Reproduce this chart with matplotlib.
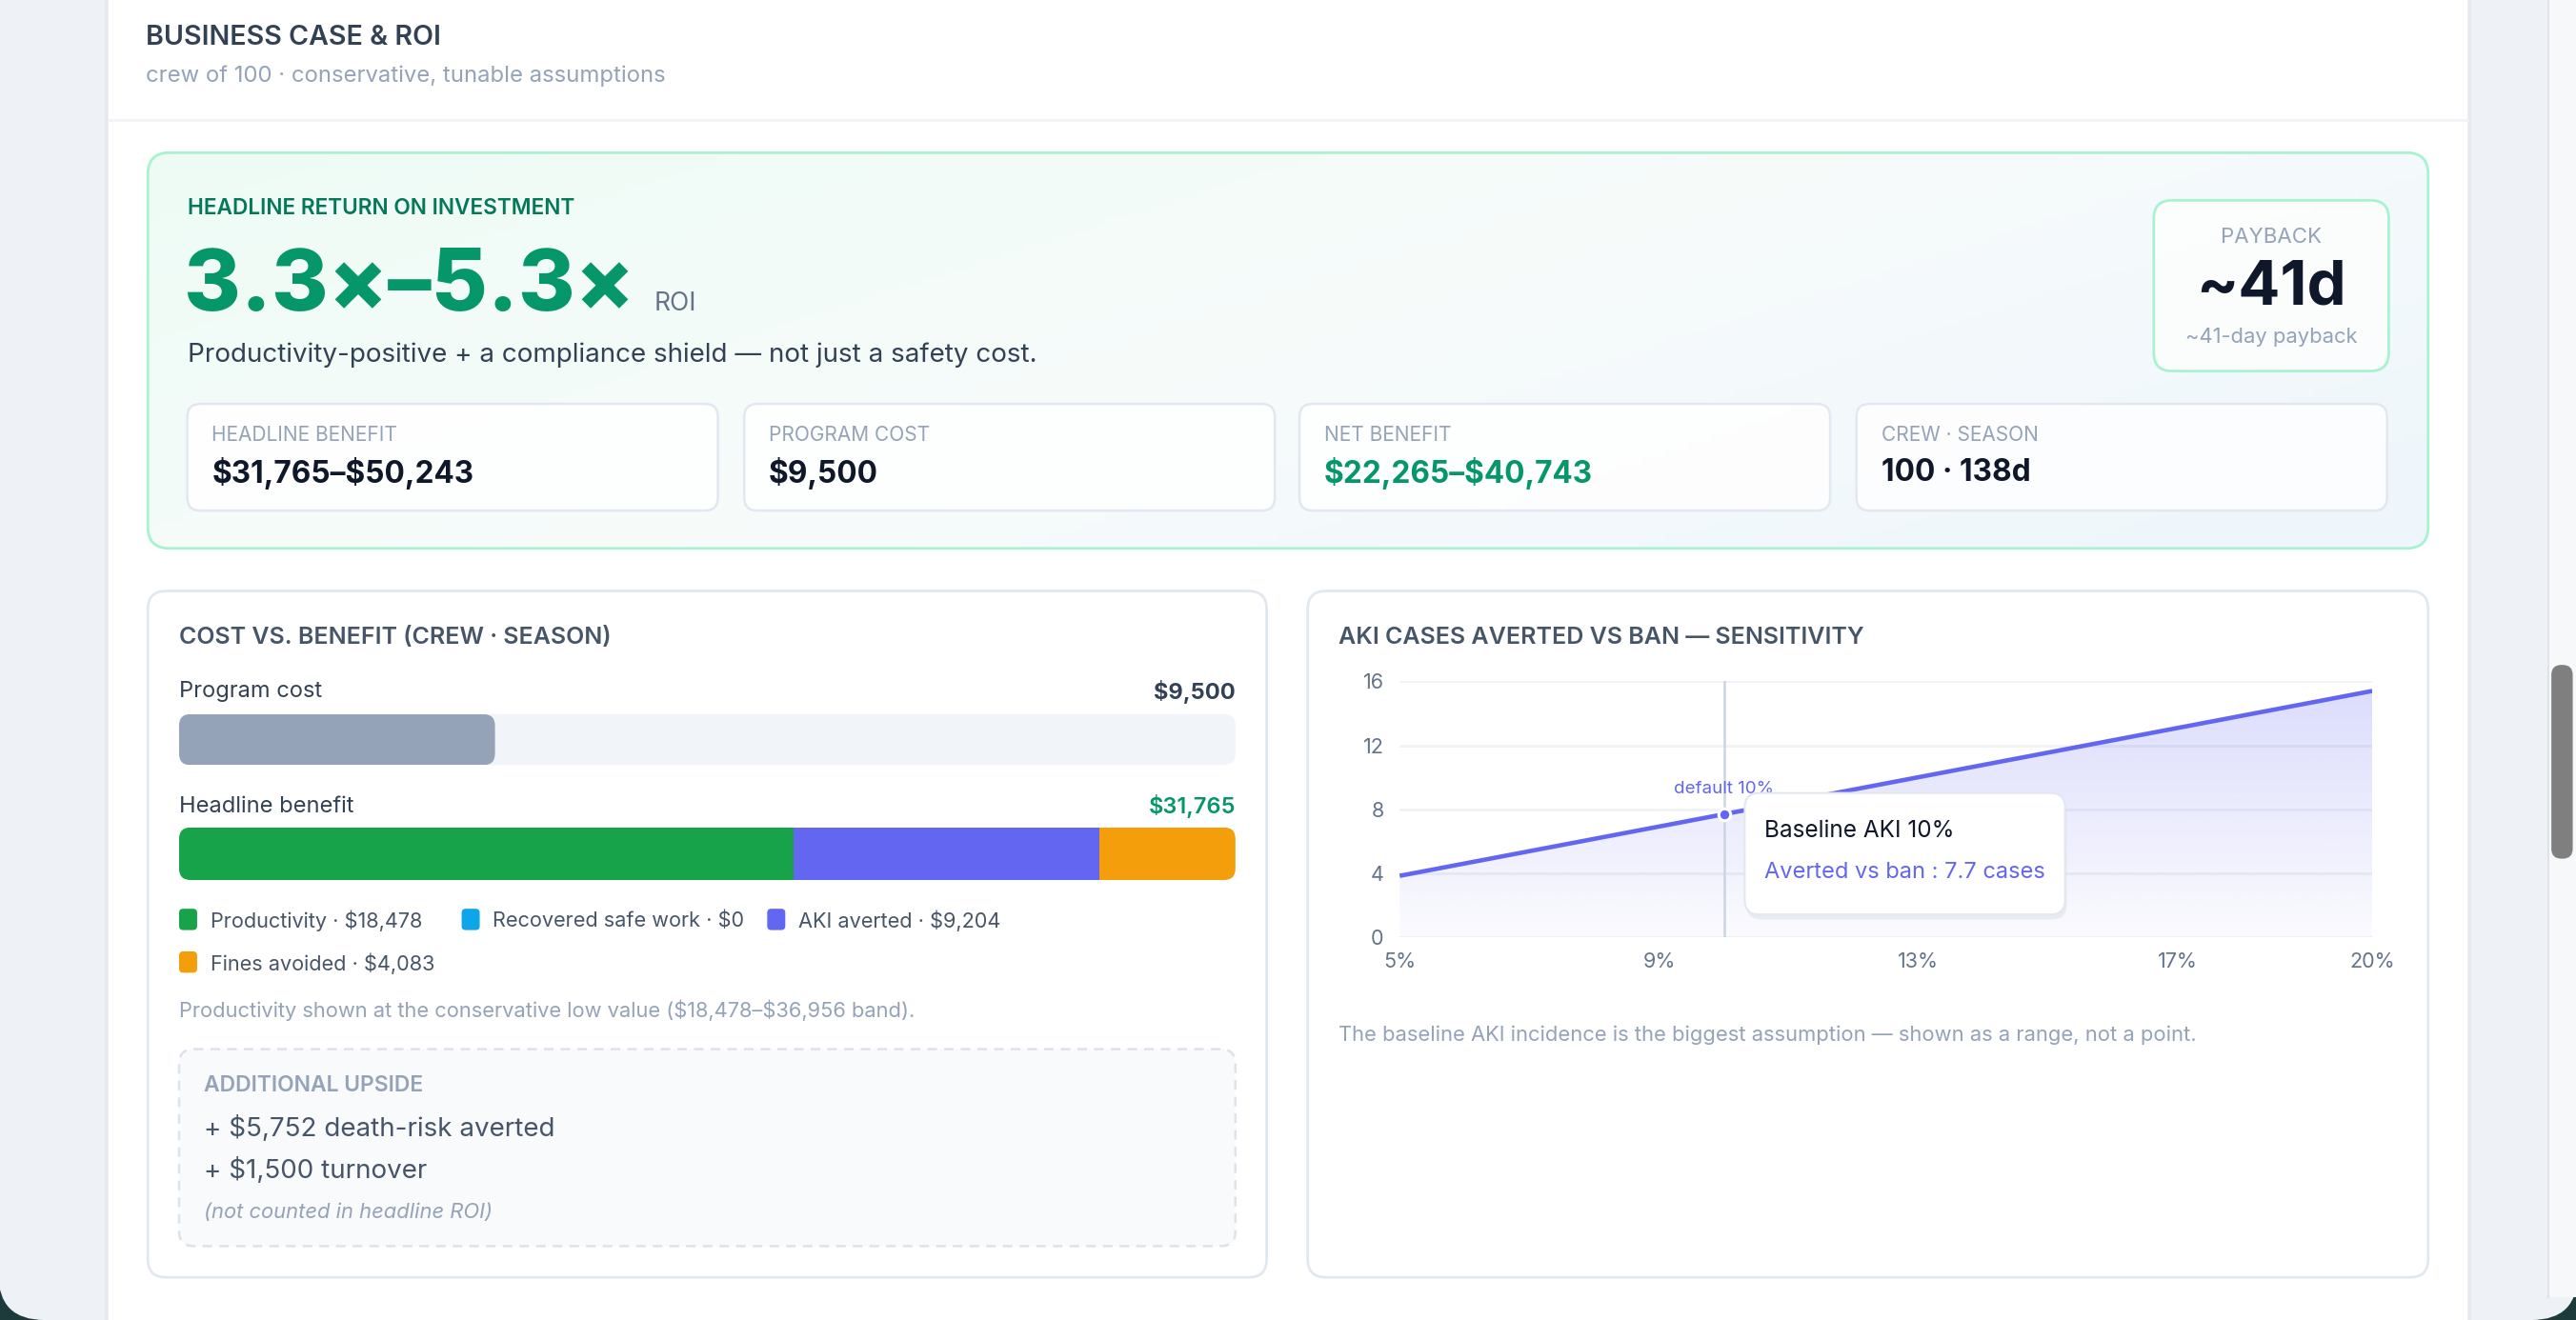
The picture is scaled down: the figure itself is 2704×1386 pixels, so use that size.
import numpy as np
import matplotlib
matplotlib.use("Agg")
import matplotlib.pyplot as plt
from matplotlib.patches import FancyBboxPatch, Rectangle
from matplotlib.colors import to_rgb

plt.rcParams["font.family"] = ["Inter", "DejaVu Sans"]

# ---- data ----
roi_range = [3.3, 5.3]
payback_days = 41
headline_benefit = [31765, 50243]
program_cost = 9500
net_benefit = [22265, 40743]
crew_size = 100
season_days = 138

benefit_labels = ["Productivity", "Recovered safe work", "AKI averted", "Fines avoided"]
benefit_values = [18478, 0, 9204, 4083]
productivity_band = [18478, 36956]

upside_values = [5752, 1500]
upside_labels = ["death-risk averted", "turnover"]

aki_baseline = [5, 10, 15, 20]          # % baseline AKI incidence
aki_averted = [3.85, 7.7, 11.55, 15.4]  # cases averted vs ban
aki_default = 10
aki_default_value = 7.7
aki_xticks = [5, 9, 13, 17, 20]
aki_yticks = [0, 4, 8, 12, 16]

# ---- styles ----
BENEFIT_COLORS = ["#16a34a", "#0ea5e9", "#6366f1", "#f59e0b"]
GREEN = "#059669"
DARK = "#0f172a"
SLATE = "#334155"
MUTED = "#94a3b8"
BORDER = "#e2e8f0"
INDIGO = "#6366f1"

W, H = 1568, 804          # layout units (scaled screenshot)
DY = 1.2                  # text baseline nudge
fig = plt.figure(figsize=(27.04, 13.86), dpi=100)
fig.patch.set_facecolor("#1d3b3a")


def layer(z):
    ax = fig.add_axes([0, 0, 1, 1], zorder=z)
    ax.set_xlim(0, W)
    ax.set_ylim(H, 0)
    ax.axis("off")
    ax.patch.set_alpha(0)
    return ax


def fig_rect(x0, y0, x1, y1):
    return [x0 / W, 1 - y1 / H, (x1 - x0) / W, (y1 - y0) / H]


def rbox(ax, x0, y0, x1, y1, r, **kw):
    p = FancyBboxPatch((x0, y0), x1 - x0, y1 - y0,
                       boxstyle=f"round,pad=0,rounding_size={r}", **kw)
    ax.add_patch(p)
    return p


def txt(ax, x, y, s, **kw):
    kw.setdefault("va", "center")
    kw.setdefault("zorder", 5)
    return ax.text(x, y + DY, s, **kw)


def money(v):
    return f"\\${v:,}"


bg = layer(0)
# window background with rounded bottom corners
rbox(bg, -1, -60, 1569, 804, 28, fc="#eef2f6", ec="none")
# scrollbar
bg.add_patch(Rectangle((1551, 0), 17, 790, fc="#f7f8fa", ec="none"))
bg.plot([1551, 1551], [0, 790], color="#dfe3e8", lw=1.5)
rbox(bg, 1553, 405, 1566, 523, 6, fc="#7f7f7f", ec="none")

# main card
rbox(bg, 64, -20, 1504, 830, 12, fc="#e6eaef", ec="none")
rbox(bg, 66, -20, 1502, 830, 12, fc="white", ec="none")
txt(bg, 89, 22, "BUSINESS CASE & ROI", fontsize=20.6, fontweight="semibold", color=SLATE)
txt(bg, 89, 45, "crew of 100 · conservative, tunable assumptions", fontsize=17.2, color=MUTED)
bg.plot([66, 1502], [73, 73], color="#f1f3f6", lw=2)

# ---- hero panel ----
hero = rbox(bg, 90, 93, 1478, 334, 13, fc="none", ec="#a7f3d0", lw=2, zorder=3)
gx, gy = np.meshgrid(np.linspace(0, 1, 200), np.linspace(0, 1, 60))
t = np.clip(0.65 * gx + 0.35 * gy, 0, 1)[..., None]
c0 = np.array(to_rgb("#eefbf5"))
c1 = np.array(to_rgb("#f7fbfb"))
c2 = np.array(to_rgb("#eef6fc"))
grad = np.where(t < 0.5, c0 + (c1 - c0) * (t / 0.5), c1 + (c2 - c1) * ((t - 0.5) / 0.5))
im = bg.imshow(grad, extent=(90, 1478, 334, 93), aspect="auto", zorder=2)
im.set_clip_path(hero)
bg.set_xlim(0, W)
bg.set_ylim(H, 0)

txt(bg, 114, 126, "HEADLINE RETURN ON INVESTMENT", fontsize=16.3, fontweight="semibold",
    color="#047857")
big = bg.text(112, 189, f"{roi_range[0]}×–{roi_range[1]}×", fontsize=65.5, fontweight="heavy",
              color=GREEN, va="baseline", zorder=5)
renderer = fig.canvas.get_renderer()
big_right = bg.transData.inverted().transform(
    (big.get_window_extent(renderer).x1, 0))[0]
bg.text(big_right + 12, 189, "ROI", fontsize=19, color="#64748b", va="baseline", zorder=5)
txt(bg, 114, 215, "Productivity-positive + a compliance shield — not just a safety cost.",
    fontsize=20, color=SLATE)

# payback box
rbox(bg, 1311, 122, 1454, 226, 11, fc=(1, 1, 1, 0.75), ec="#a7f3d0", lw=2, zorder=4)
txt(bg, 1382.5, 143, "PAYBACK", fontsize=16, color=MUTED, ha="center")
txt(bg, 1382.5, 174, f"~{payback_days}d", fontsize=47, fontweight="bold", color=DARK,
    ha="center")
txt(bg, 1382.5, 204, f"~{payback_days}-day payback", fontsize=15.8, color=MUTED, ha="center")

# metric tiles
tiles = [
    ("HEADLINE BENEFIT", f"{money(headline_benefit[0])}–{money(headline_benefit[1])}", DARK),
    ("PROGRAM COST", money(program_cost), DARK),
    ("NET BENEFIT", f"{money(net_benefit[0])}–{money(net_benefit[1])}", GREEN),
    ("CREW · SEASON", f"{crew_size} · {season_days}d", DARK),
]
tile_x = [114, 453, 791, 1130]
for (label, value, col), x0 in zip(tiles, tile_x):
    rbox(bg, x0, 246, x0 + 323, 311, 8, fc=(1, 1, 1, 0.85), ec=BORDER, lw=1.8, zorder=4)
    txt(bg, x0 + 15, 264, label, fontsize=15, color=MUTED)
    txt(bg, x0 + 15, 287, value, fontsize=22.8, fontweight="bold", color=col)

# ---- lower panels ----
for x0, x1 in [(90, 771), (796, 1478)]:
    rbox(bg, x0, 360, x1, 778, 11, fc="white", ec=BORDER, lw=2, zorder=2)

# cost vs benefit
txt(bg, 109, 387, "COST VS. BENEFIT (CREW · SEASON)", fontsize=18, fontweight="semibold",
    color="#475569")
total_benefit = sum(benefit_values)
txt(bg, 109, 420, "Program cost", fontsize=17, color=SLATE)
txt(bg, 752, 420, money(program_cost), fontsize=17, fontweight="bold", color=SLATE, ha="right")
txt(bg, 109, 490, "Headline benefit", fontsize=17, color=SLATE)
txt(bg, 752, 490, money(total_benefit), fontsize=17, fontweight="semibold", color=GREEN,
    ha="right")

rbox(bg, 109, 435, 752, 466, 7, fc="#f1f5f9", ec="none", zorder=3)
ax_cost = fig.add_axes(fig_rect(109, 435, 752, 466), zorder=3)
ax_cost.set_xlim(0, total_benefit)
ax_cost.set_ylim(0, 1)
ax_cost.axis("off")
ax_cost.patch.set_alpha(0)
bar = ax_cost.barh(0.5, program_cost, height=1, color="#94a3b8")[0]
ext = bar.get_window_extent()
(bx0, by1), (bx1, by0) = bg.transData.inverted().transform([[ext.x0, ext.y0], [ext.x1, ext.y1]])
fill_clip = FancyBboxPatch((bx0, by0), bx1 - bx0, by1 - by0,
                           boxstyle="round,pad=0,rounding_size=7", transform=bg.transData)
bar.set_clip_path(fill_clip)

stack_clip = rbox(bg, 109, 504, 752, 536, 7, fc="none", ec="none", zorder=3)
ax_ben = fig.add_axes(fig_rect(109, 504, 752, 536), zorder=3)
ax_ben.set_xlim(0, total_benefit)
ax_ben.set_ylim(0, 1)
ax_ben.axis("off")
ax_ben.patch.set_alpha(0)
left = 0
for v, c in zip(benefit_values, BENEFIT_COLORS):
    seg = ax_ben.barh(0.5, v, left=left, height=1, color=c, lw=0)[0]
    seg.set_clip_path(stack_clip)
    left += v

# legend
legend_pos = [(109, 560), (281, 560), (467, 560), (109, 586)]
for (lx, ly), lab, v, c in zip(legend_pos, benefit_labels, benefit_values, BENEFIT_COLORS):
    rbox(bg, lx, ly - 6.5, lx + 11, ly + 6.5, 2.5, fc=c, ec="none", zorder=5)
    txt(bg, lx + 19, ly - 0.5, f"{lab} · {money(v)}", fontsize=15.6, color="#475569")

txt(bg, 109, 614, "Productivity shown at the conservative low value "
    f"({money(productivity_band[0])}–{money(productivity_band[1])} band).",
    fontsize=15.75, color=MUTED)

rbox(bg, 109, 639, 752, 759, 9, fc="#f8fafc", ec="#dde3ea", lw=1.8, ls=(0, (4, 3)), zorder=4)
txt(bg, 124, 660, "ADDITIONAL UPSIDE", fontsize=16.5, fontweight="semibold", color=MUTED)
for yy, v, lab in zip([686, 712], upside_values, upside_labels):
    txt(bg, 124, yy, f"+ {money(v)} {lab}", fontsize=20, color="#475569")
txt(bg, 124, 737, "(not counted in headline ROI)", fontsize=15.8, style="italic", color=MUTED)

# AKI sensitivity chart
txt(bg, 815, 387, "AKI CASES AVERTED VS BAN — SENSITIVITY", fontsize=18,
    fontweight="semibold", color="#475569")
txt(bg, 815, 629, "The baseline AKI incidence is the biggest assumption — shown as a range, "
    "not a point.", fontsize=15.8, color=MUTED)

ax = fig.add_axes(fig_rect(852, 415, 1444, 571), zorder=4)
ax.patch.set_alpha(0)
for s in ax.spines.values():
    s.set_visible(False)
ax.set_yticks(aki_yticks)
ax.set_xticks(aki_xticks)
ax.set_xticklabels([f"{v}%" for v in aki_xticks])
ax.tick_params(length=0, labelsize=15.5, labelcolor="#64748b")
ax.tick_params(axis="y", pad=12)
ax.tick_params(axis="x", pad=11)
ax.grid(axis="y", color="#f0f2f5", lw=2)
ax.set_axisbelow(True)

area = ax.fill_between(aki_baseline, aki_averted, 0, color="none", lw=0)
ramp = np.linspace(0, 1, 100)[:, None]
rgba = np.zeros((100, 1, 4))
rgba[..., :3] = to_rgb(INDIGO)
rgba[..., 3] = 0.03 + 0.2 * ramp
gim = ax.imshow(rgba, extent=(aki_baseline[0], aki_baseline[-1], 0, aki_yticks[-1]),
                origin="lower", aspect="auto", zorder=1)
gim.set_clip_path(area.get_paths()[0], transform=ax.transData)

ax.axvline(aki_default, color="#cbd5e1", lw=1.8, zorder=2)
ax.plot(aki_baseline, aki_averted, color=INDIGO, lw=3.3, zorder=3, solid_capstyle="butt")
ax.plot([aki_default], [aki_default_value], "o", color=INDIGO, ms=9,
        mec="white", mew=2.2, zorder=4)
ax.annotate(f"default {aki_default}%", (aki_default, aki_default_value),
            xytext=(0, 19), textcoords="offset points", ha="center", va="center",
            fontsize=13.5, color=INDIGO, zorder=4)
ax.set_xlim(aki_baseline[0], aki_baseline[-1])
ax.set_ylim(aki_yticks[0], aki_yticks[-1])

# tooltip on top
fg = layer(10)
rbox(fg, 1063, 486, 1258, 560, 9, fc=(0.06, 0.09, 0.16, 0.06), ec="none")
rbox(fg, 1062, 483, 1257, 557, 9, fc="white", ec=BORDER, lw=1.5)
txt(fg, 1074, 505, f"Baseline AKI {aki_default}%", fontsize=17.5, color=DARK)
txt(fg, 1074, 530, f"Averted vs ban : {aki_default_value} cases", fontsize=17, color=INDIGO)

fig.savefig("out.png", dpi=100, facecolor=fig.get_facecolor())
